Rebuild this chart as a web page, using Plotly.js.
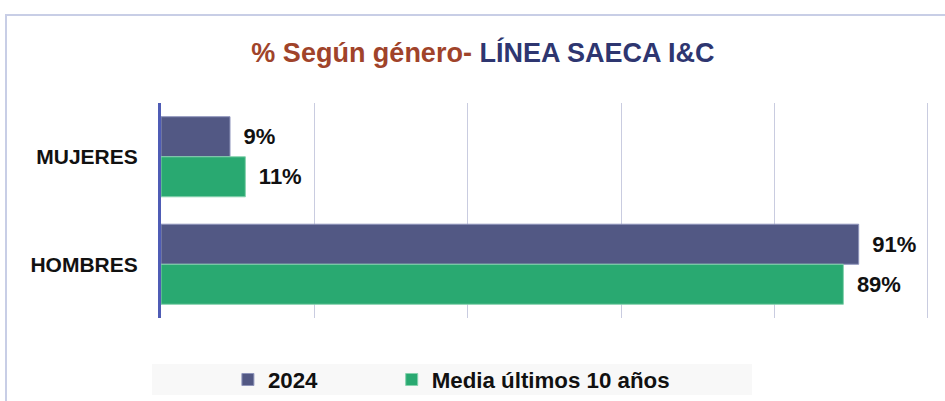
<!DOCTYPE html>
<html>
<head>
<meta charset="utf-8">
<script src="https://cdn.plot.ly/plotly-3.0.1.min.js"></script>
<style>
html,body{margin:0;padding:0;background:#fff;width:945px;height:401px;overflow:hidden;}
#frame{position:absolute;left:5px;top:14px;width:960px;height:420px;border:2px solid #c8cee6;box-sizing:border-box;}
#chart{position:absolute;left:0;top:0;width:945px;height:401px;}
</style>
</head>
<body>
<div id="frame"></div>
<div id="chart"></div>
<script>
const categories = ['MUJERES', 'HOMBRES'];
const seriesNames = ['2024', 'Media últimos 10 años'];
const values2024 = [9, 91];
const valuesMedia = [11, 89];
const xTicks = [0, 20, 40, 60, 80, 100];

const baseFamily = 'Liberation Sans, Arial, sans-serif';
const labelFont = {family: baseFamily, size: 22, color: '#111111', weight: 'bold'};
const PAD = '\u00a0\u202f';

const traces = [
  {
    type: 'bar', orientation: 'h', name: seriesNames[0], legend: 'legend',
    y: categories, x: values2024,
    marker: {color: '#525884', line: {color: '#8e94bb', width: 1}},
    text: values2024.map(v => PAD + v + '%'),
    textposition: 'outside', cliponaxis: false,
    textfont: labelFont, hoverinfo: 'skip'
  },
  {
    type: 'bar', orientation: 'h', name: seriesNames[1], legend: 'legend2',
    y: categories, x: valuesMedia,
    marker: {color: '#29a971', line: {color: '#86d2ae', width: 1}},
    text: valuesMedia.map(v => PAD + v + '%'),
    textposition: 'outside', cliponaxis: false,
    textfont: labelFont, hoverinfo: 'skip'
  }
];

const legendFont = {family: baseFamily, size: 22.3, color: '#111111', weight: 'bold'};

const layout = {
  width: 945, height: 401,
  paper_bgcolor: 'rgba(0,0,0,0)', plot_bgcolor: 'rgba(0,0,0,0)',
  margin: {l: 161, r: 15, t: 103, b: 83, autoexpand: false},
  barmode: 'group', bargap: 0.255, bargroupgap: 0,
  title: {
    text: '<span style="color:#a0432a">% Según género- </span><span style="color:#2e3670">LÍNEA SAECA I&amp;C</span>',
    font: {family: baseFamily, size: 27, weight: 'bold'},
    x: 0.511, xanchor: 'center', y: 0.87, yanchor: 'middle'
  },
  xaxis: {
    range: [0, 100.3], tickvals: xTicks, showticklabels: false,
    showgrid: true, gridcolor: '#c9cce0', gridwidth: 1,
    zeroline: false, showline: false, fixedrange: true
  },
  yaxis: {
    type: 'category', autorange: 'reversed',
    showline: true, linecolor: '#4f5cb5', linewidth: 3,
    showgrid: false, zeroline: false, ticks: '',
    ticklabelstandoff: 16,
    tickfont: {family: baseFamily, size: 21, color: '#111111', weight: 'bold'}
  },
  showlegend: true,
  legend: {
    orientation: 'h', x: 0.087, xanchor: 'left', y: -0.286, yanchor: 'middle',
    bgcolor: 'rgba(0,0,0,0)', font: legendFont
  },
  legend2: {
    orientation: 'h', x: 0.300, xanchor: 'left', y: -0.286, yanchor: 'middle',
    bgcolor: 'rgba(0,0,0,0)', font: legendFont
  },
  shapes: [{
    type: 'rect', xref: 'paper', yref: 'paper',
    x0: -0.0117, x1: 0.7685, y0: -0.358, y1: -0.214,
    fillcolor: '#f8f8f8', line: {width: 0}, layer: 'below'
  }]
};

Plotly.newPlot('chart', traces, layout, {displayModeBar: false, staticPlot: true});
</script>
</body>
</html>
